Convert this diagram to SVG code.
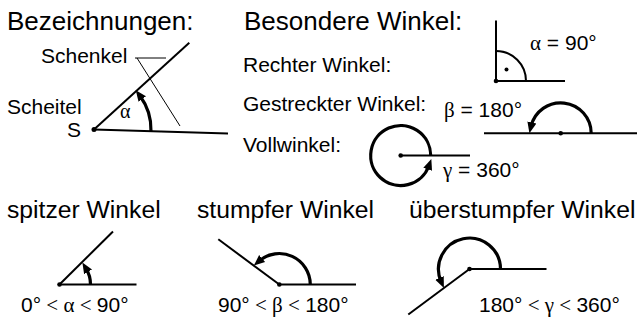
<svg xmlns="http://www.w3.org/2000/svg" width="640" height="320" viewBox="0 0 640 320">
<style>
text{font-family:"Liberation Sans",Arial,sans-serif;fill:#000}
.h{font-size:26px}
.s{font-size:21px}
.t{font-size:24.7px}
.g{font-family:"Liberation Serif","Times New Roman",serif}
.ray{stroke:#000;stroke-width:2;fill:none;stroke-linecap:butt}
.thin{stroke:#000;stroke-width:1;fill:none}
.arcA{stroke:#000;stroke-width:3.2;fill:none;marker-end:url(#ah)}
.qarc{stroke:#000;stroke-width:2;fill:none}
</style>
<defs>
<marker id="ah" markerUnits="userSpaceOnUse" markerWidth="14" markerHeight="12" viewBox="0 -6 14 12" refX="4" refY="0" orient="auto">
<path d="M0,-4.6 L11,0 L0,4.6 z" fill="#000"/>
</marker>
</defs>
<rect width="640" height="320" fill="#fff"/>

<g id="titles">
<text class="h" x="7" y="30">Bezeichnungen:</text>
<text class="h" x="244" y="30">Besondere Winkel:</text>
</g>

<g id="bezeichnungen">
<text class="s" x="41" y="63">Schenkel</text>
<text class="s" x="7" y="113.5">Scheitel</text>
<text class="s" x="67" y="136.5">S</text>
<text class="g" x="120" y="118" font-size="20">α</text>
</g>

<g id="connectors">
<line class="ray" x1="94" y1="129.5" x2="189.3" y2="42.7"/>
<line class="ray" x1="94" y1="129.5" x2="228" y2="133.5"/>
<line class="thin" x1="135" y1="58" x2="166" y2="58"/>
<line class="thin" x1="137" y1="58" x2="180" y2="126"/>
<path class="arcA" d="M150.98,131.1 A57,57 0 0 0 139.9,95.8"/>
<circle cx="94" cy="129.5" r="2.5"/>
</g>

<g id="rechter-winkel">
<text class="s" x="243" y="72">Rechter Winkel:</text>
<line class="ray" x1="496" y1="20.5" x2="496" y2="81"/>
<line class="ray" x1="496" y1="81" x2="565" y2="81"/>
<path class="qarc" d="M496,51 A30,30 0 0 1 526,81"/>
<circle cx="506.5" cy="69.5" r="2"/>
<circle cx="496" cy="81" r="2.3"/>
<text class="s" x="530" y="50"><tspan class="g">α</tspan> = 90°</text>
</g>

<g id="gestreckter-winkel">
<text class="s" x="243" y="111">Gestreckter Winkel:</text>
<line class="ray" x1="484" y1="133.3" x2="637" y2="133.3"/>
<path class="arcA" d="M591.2,133.3 A30.5,30.5 0 0 0 531.0,126.4"/>
<circle cx="560.7" cy="133.3" r="2.3"/>
<text class="s" x="444" y="117"><tspan class="g">β</tspan> = 180°</text>
</g>

<g id="vollwinkel">
<text class="s" x="243" y="152">Vollwinkel:</text>
<line class="ray" x1="400.7" y1="155.5" x2="470" y2="155.5"/>
<path class="arcA" d="M430.7,155.5 A30,30 0 1 0 429.0,165.5"/>
<circle cx="400.7" cy="155.5" r="2.3"/>
<text class="s" x="443" y="177"><tspan class="g">γ</tspan> = 360°</text>
</g>

<g id="spitzer-winkel">
<text class="t" x="7" y="218">spitzer Winkel</text>
<line class="ray" x1="59.5" y1="284.5" x2="136.5" y2="284.5"/>
<line class="ray" x1="59.5" y1="284.5" x2="113" y2="231.5"/>
<path class="arcA" d="M90.5,284.5 A31,31 0 0 0 86,268.4"/>
<circle cx="59.5" cy="284.5" r="2.3"/>
<text class="s" x="21" y="312">0°<tspan class="g"> &lt; α &lt; </tspan>90°</text>
</g>

<g id="stumpfer-winkel">
<text class="t" x="197" y="218">stumpfer Winkel</text>
<line class="ray" x1="279.3" y1="284.5" x2="356" y2="284.5"/>
<line class="ray" x1="279.3" y1="284.5" x2="218.3" y2="239.3"/>
<path class="arcA" d="M310.3,284.5 A31,31 0 0 0 259.1,261"/>
<circle cx="279.3" cy="284.5" r="2.3"/>
<text class="s" x="218" y="312">90°<tspan class="g"> &lt; β &lt; </tspan>180°</text>
</g>

<g id="ueberstumpfer-winkel">
<text class="t" x="409" y="218">überstumpfer Winkel</text>
<line class="ray" x1="469.5" y1="269" x2="546.5" y2="269"/>
<line class="ray" x1="469.5" y1="269" x2="408.3" y2="314.5"/>
<path class="arcA" d="M500.5,269 A31,31 0 1 0 441.1,281.5"/>
<circle cx="469.5" cy="269" r="2.3"/>
<text class="s" x="479" y="312">180°<tspan class="g"> &lt; γ &lt; </tspan>360°</text>
</g>
</svg>
